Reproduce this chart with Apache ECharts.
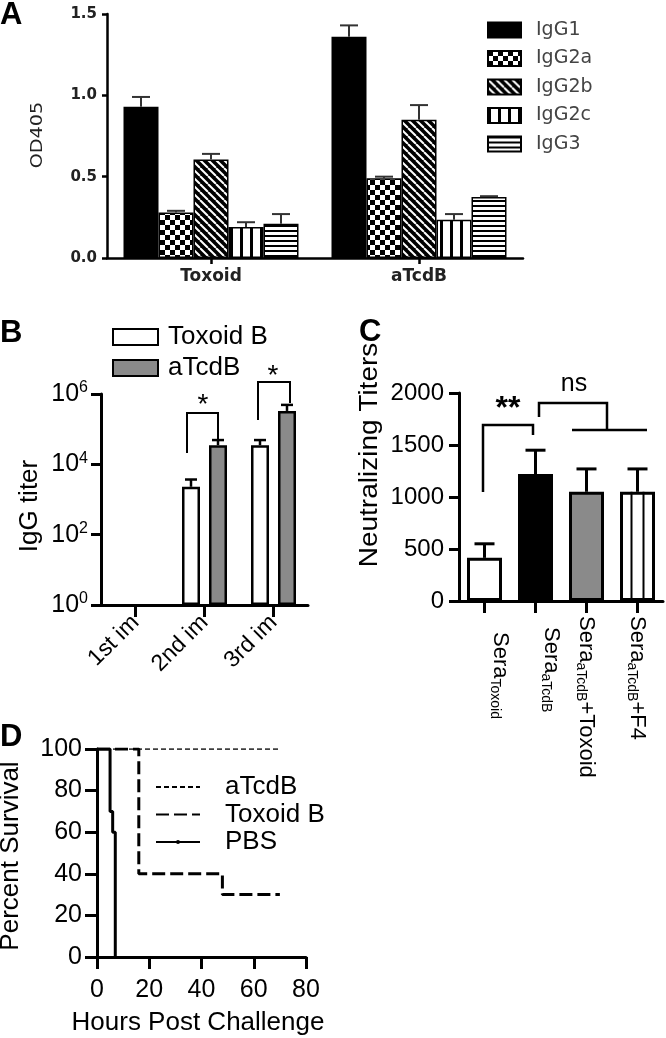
<!DOCTYPE html>
<html><head><meta charset="utf-8">
<script src="https://cdn.jsdelivr.net/npm/echarts@6/dist/echarts.min.js"></script>
<style>html,body{margin:0;padding:0;background:#fff}#c{width:666px;height:1038px}</style>
</head><body><div id="c"></div>
<script>
// ---------- Panel A : IgG subclass ELISA ----------
const aCategories = ['Toxoid', 'aTcdB'];
const aSubclasses = ['IgG1', 'IgG2a', 'IgG2b', 'IgG2c', 'IgG3'];
const aIgG1  = [0.93, 1.36];
const aIgG2a = [0.28, 0.49];
const aIgG2b = [0.605, 0.85];
const aIgG2c = [0.19, 0.235];
const aIgG3  = [0.21, 0.375];
const aIgG1Err  = [0.06, 0.07];
const aIgG2aErr = [0.01, 0.01];
const aIgG2bErr = [0.035, 0.09];
const aIgG2cErr = [0.03, 0.035];
const aIgG3Err  = [0.06, 0.005];

// ---------- Panel B : IgG titer (log) ----------
const bCategories = ['1st im', '2nd im', '3rd im'];
const bToxoidB    = [null, 2300, 35000];
const bToxoidBErr = [null, 1400, 14000];
const bATcdB      = [null, 35000, 330000];
const bATcdBErr   = [null, 14000, 160000];

// ---------- Panel C : neutralizing titers ----------
const cSub    = ['Toxoid', 'aTcdB', 'aTcdB', 'aTcdB'];
const cSuffix = ['', '', '+Toxoid', '+F4'];
const cValues = [415, 1220, 1050, 1050];
const cErr    = [135, 230, 220, 220];

// ---------- Panel D : survival ----------
const dATcdBHours  = [0, 70];
const dATcdBSurv   = [100, 100];
const dToxoidHours = [0, 16, 48, 70];
const dToxoidSurv  = [100, 40, 30, 30];
const dPBSHours    = [0, 5, 6, 7];
const dPBSSurv     = [100, 70, 60, 0];

// ---------- patterns ----------
function tile(w, h, draw) {
  const c = document.createElement('canvas'); c.width = w; c.height = h;
  const g = c.getContext('2d'); draw(g, w, h); return c;
}
const pChecker = tile(10, 10, (g) => { g.fillStyle = '#fff'; g.fillRect(0,0,10,10); g.fillStyle = '#000'; g.fillRect(0,0,5,5); g.fillRect(5,5,5,5); });
const pDiag = tile(8, 8, (g) => { g.fillStyle = '#000'; g.fillRect(0,0,8,8); g.strokeStyle = '#fff'; g.lineWidth = 2;
  [-8, 0, 8].forEach(o => { g.beginPath(); g.moveTo(o, 0); g.lineTo(o + 8, 8); g.stroke(); }); });
const pVert = tile(10, 4, (g) => { g.fillStyle = '#fff'; g.fillRect(0,0,10,4); g.fillStyle = '#000'; g.fillRect(0,0,3,4); });
const pHoriz = tile(4, 5, (g) => { g.fillStyle = '#fff'; g.fillRect(0,0,4,5); g.fillStyle = '#000'; g.fillRect(0,0,4,2); });
const aFills = ['#000', {image: pChecker, repeat: 'repeat'}, {image: pDiag, repeat: 'repeat'}, {image: pVert, repeat: 'repeat'}, {image: pHoriz, repeat: 'repeat'}];

const FONT = 'Liberation Sans, Arial, sans-serif';
const chart = echarts.init(document.getElementById('c'), null, {renderer: 'canvas'});

function errRender(offsets, capW, lw, color) {
  return function (params, api) {
    const cat = api.value(0), v = api.value(1), e = api.value(2), s = api.value(3);
    const p0 = api.coord([cat, v]); const p1 = api.coord([cat, v + e]);
    const cx = p0[0] + offsets[s];
    const st = {stroke: color, lineWidth: lw};
    return {type: 'group', children: [
      {type: 'line', shape: {x1: cx, y1: p0[1], x2: cx, y2: p1[1]}, style: st},
      {type: 'line', shape: {x1: cx - capW / 2, y1: p1[1], x2: cx + capW / 2, y2: p1[1]}, style: st}
    ]};
  };
}

const aVals = [aIgG1, aIgG2a, aIgG2b, aIgG2c, aIgG3];
const aErrs = [aIgG1Err, aIgG2aErr, aIgG2bErr, aIgG2cErr, aIgG3Err];
const aErrData = [];
aVals.forEach((arr, s) => arr.forEach((v, i) => aErrData.push([i, v, aErrs[s][i], s])));
const bErrData = [];
[[bToxoidB, bToxoidBErr], [bATcdB, bATcdBErr]].forEach((pair, s) => pair[0].forEach((v, i) => { if (v != null) bErrData.push([i, v, pair[1][i], s]); }));
const cErrData = cValues.map((v, i) => [i, v, cErr[i], 0]);
const cFill = ['#fff', '#000', '#8a8a8a', '#fff'];

const axLine = (w) => ({show: true, lineStyle: {color: '#000', width: w}});
const axTick = (len, w, align) => ({show: true, alignWithLabel: !!align, length: len, lineStyle: {color: '#000', width: w}});
const txt = (size) => ({fontFamily: FONT, fontSize: size, color: '#000'});

const option = {
  animation: false,
  backgroundColor: '#fff',
  grid: [
    {left: 107, top: 14, width: 416, height: 244},
    {left: 101, top: 394, width: 207, height: 211},
    {left: 459, top: 393, width: 204, height: 208},
    {left: 97, top: 749, width: 209, height: 208}
  ],
  xAxis: [
    {type: 'category', gridIndex: 0, data: aCategories, axisLine: axLine(2.5), axisTick: axTick(6, 2.5, true),
     axisLabel: {fontFamily: 'DejaVu Sans', fontWeight: 'bold', fontSize: 17, color: '#222', margin: 10}},
    {type: 'category', gridIndex: 1, data: bCategories, axisLine: axLine(3), axisTick: axTick(12, 3, true),
     axisLabel: Object.assign(txt(23), {rotate: 45, margin: 14})},
    {type: 'category', gridIndex: 2,
     data: [{value: 'c0', textStyle: {padding: [0, 0, 32, 16]}}, {value: 'c1', textStyle: {padding: [0, 0, 32, 11]}}, 'c2', 'c3'],
     axisLine: axLine(3), axisTick: axTick(12, 3, true),
     axisLabel: {rotate: -90, margin: 15, interval: 0,
       formatter: (val, idx) => '{m|Sera}{s|' + cSub[idx] + '}' + (cSuffix[idx] ? '{m|' + cSuffix[idx] + '}' : ''),
       rich: {m: {fontFamily: FONT, fontSize: 22, color: '#000', lineHeight: 26},
              s: {fontFamily: FONT, fontSize: 14, color: '#000', lineHeight: 14, verticalAlign: 'bottom'}}}},
    {type: 'value', gridIndex: 3, min: 0, max: 80, interval: 20, axisLine: axLine(3), axisTick: axTick(12, 3),
     splitLine: {show: false}, axisLabel: Object.assign(txt(25), {margin: 21})}
  ],
  yAxis: [
    {type: 'value', gridIndex: 0, min: 0, max: 1.5, interval: 0.5, axisLine: axLine(2.5), axisTick: axTick(5, 2.5),
     splitLine: {show: false},
     axisLabel: {fontFamily: 'DejaVu Sans', fontWeight: 'bold', fontSize: 15, color: '#222', margin: 10, formatter: v => v.toFixed(1)}},
    {type: 'log', gridIndex: 1, logBase: 10, min: 1, max: 1e6, interval: 2, axisLine: axLine(3), axisTick: axTick(10, 3),
     splitLine: {show: false}, minorTick: {show: false},
     axisLabel: {margin: 13, formatter: v => '{b|10}{e|' + Math.round(Math.log10(v)) + '}',
       rich: {b: {fontFamily: FONT, fontSize: 25, color: '#000', lineHeight: 28},
              e: {fontFamily: FONT, fontSize: 16, color: '#000', lineHeight: 16, verticalAlign: 'top'}}}},
    {type: 'value', gridIndex: 2, min: 0, max: 2000, interval: 500, axisLine: axLine(3), axisTick: axTick(10, 3),
     splitLine: {show: false}, axisLabel: Object.assign(txt(24), {margin: 15, formatter: v => String(v)})},
    {type: 'value', gridIndex: 3, min: 0, max: 100, interval: 20, axisLine: axLine(3), axisTick: axTick(12, 3),
     splitLine: {show: false}, axisLabel: Object.assign(txt(25), {margin: 15})}
  ],
  legend: [
    {data: aSubclasses, orient: 'vertical', left: 487, top: 20, padding: 0, itemWidth: 33, itemHeight: 15, itemGap: 8.5,
     icon: 'rect', selectedMode: false,
     textStyle: {fontFamily: 'DejaVu Sans', fontSize: 19, color: '#444', lineHeight: 20, padding: [0, 0, 0, 10]}},
    {data: ['B-Toxoid B', 'B-aTcdB'], orient: 'vertical', left: 112, top: 324, padding: 0, itemWidth: 45, itemHeight: 16, itemGap: 5,
     icon: 'rect', selectedMode: false, formatter: n => n.slice(2),
     textStyle: {fontFamily: FONT, fontSize: 26, color: '#000', lineHeight: 26, padding: [0, 0, 0, 5]}},
    {data: [{name: 'D-aTcdB', itemStyle: {opacity: 0}}, {name: 'D-Toxoid B', itemStyle: {opacity: 0}}, 'D-PBS'],
     orient: 'vertical', left: 155, top: 774, padding: 0, itemWidth: 44, itemHeight: 5, itemGap: 1.5,
     selectedMode: false, formatter: n => n.slice(2),
     textStyle: {fontFamily: FONT, fontSize: 26, color: '#000', lineHeight: 26, padding: [0, 0, 0, 20]}}
  ],
  series: [
    ...aSubclasses.map((n, s) => ({
      type: 'bar', name: n, xAxisIndex: 0, yAxisIndex: 0, data: aVals[s], barWidth: 35, barGap: '0%',
      itemStyle: {color: aFills[s], borderColor: '#000', borderWidth: 1.5}, z: 2
    })),
    {type: 'custom', xAxisIndex: 0, yAxisIndex: 0, data: aErrData, encode: {x: 0, y: 1}, z: 3,
     renderItem: errRender([-70, -35, 0, 35, 70], 18, 2, '#333')},
    {type: 'bar', name: 'B-Toxoid B', xAxisIndex: 1, yAxisIndex: 1, data: bToxoidB, barWidth: 18, barGap: '50%',
     itemStyle: {color: '#fff', borderColor: '#000', borderWidth: 2.5}, z: 2},
    {type: 'bar', name: 'B-aTcdB', xAxisIndex: 1, yAxisIndex: 1, data: bATcdB, barWidth: 18, barGap: '50%',
     itemStyle: {color: '#8a8a8a', borderColor: '#000', borderWidth: 2.5}, z: 2},
    {type: 'custom', xAxisIndex: 1, yAxisIndex: 1, data: bErrData, encode: {x: 0, y: 1}, z: 3,
     renderItem: errRender([-13.5, 13.5], 12, 2.5, '#000')},
    {type: 'bar', name: 'C', xAxisIndex: 2, yAxisIndex: 2, barWidth: 35,
     data: cValues.map((v, i) => ({value: v, itemStyle: {color: cFill[i]}})),
     itemStyle: {borderColor: '#000', borderWidth: 3}, z: 2},
    {type: 'custom', xAxisIndex: 2, yAxisIndex: 2, data: cErrData, encode: {x: 0, y: 1}, z: 3,
     renderItem: errRender([0], 20, 3, '#000')},
    {type: 'custom', xAxisIndex: 2, yAxisIndex: 2, data: [[3, cValues[3]]], encode: {x: 0, y: 1}, z: 3,
     renderItem: (params, api) => {
       const top = api.coord([api.value(0), api.value(1)]); const base = api.coord([api.value(0), 0]);
       const st = {stroke: '#000', lineWidth: 2};
       return {type: 'group', children: [-6, 6].map(o => ({type: 'line', shape: {x1: top[0] + o, y1: top[1], x2: top[0] + o, y2: base[1]}, style: st}))};
     }},
    {type: 'line', name: 'D-aTcdB', xAxisIndex: 3, yAxisIndex: 3, step: 'end', symbol: 'none',
     data: dATcdBHours.map((h, i) => [h, dATcdBSurv[i]]), lineStyle: {color: '#000', width: 1.5, type: [5, 3]}, itemStyle: {color: '#000'}, z: 4},
    {type: 'line', name: 'D-Toxoid B', xAxisIndex: 3, yAxisIndex: 3, step: 'end', symbol: 'none',
     data: dToxoidHours.map((h, i) => [h, dToxoidSurv[i]]), lineStyle: {color: '#000', width: 3, type: [13, 5]}, itemStyle: {color: '#000'}, z: 3},
    {type: 'line', name: 'D-PBS', xAxisIndex: 3, yAxisIndex: 3, step: 'end', symbol: 'circle', symbolSize: 5, showSymbol: false,
     data: dPBSHours.map((h, i) => [h, dPBSSurv[i]]), lineStyle: {color: '#000', width: 3}, itemStyle: {color: '#000'}, z: 3}
  ],
  graphic: [
    // panel letters
    {type: 'text', left: 0, top: 0, style: {text: 'A', font: 'bold 31px ' + FONT, fill: '#000'}},
    {type: 'text', x: 0, y: 333, style: {text: 'B', font: 'bold 31px ' + FONT, fill: '#000', textVerticalAlign: 'middle'}},
    {type: 'text', x: 359, y: 332, style: {text: 'C', font: 'bold 31px ' + FONT, fill: '#000', textVerticalAlign: 'middle'}},
    {type: 'text', x: 0, y: 737, style: {text: 'D', font: 'bold 31px ' + FONT, fill: '#000', textVerticalAlign: 'middle'}},
    // axis titles
    {type: 'text', x: 38, y: 135, rotation: Math.PI / 2, scaleX: 1.2, style: {text: 'OD405', font: '16px DejaVu Sans', fill: '#222', textAlign: 'center', textVerticalAlign: 'middle'}},
    {type: 'text', x: 30, y: 506, rotation: Math.PI / 2, style: {text: 'IgG titer', font: '26px ' + FONT, fill: '#000', textAlign: 'center', textVerticalAlign: 'middle'}},
    {type: 'text', x: 370, y: 455, rotation: Math.PI / 2, scaleX: 1.12, style: {text: 'Neutralizing Titers', font: '25px ' + FONT, fill: '#000', textAlign: 'center', textVerticalAlign: 'middle'}},
    {type: 'text', x: 11, y: 856, rotation: Math.PI / 2, style: {text: 'Percent Survival', font: '26px ' + FONT, fill: '#000', textAlign: 'center', textVerticalAlign: 'middle'}},
    {type: 'text', x: 198, y: 1023, style: {text: 'Hours Post Challenge', font: '26px ' + FONT, fill: '#000', textAlign: 'center', textVerticalAlign: 'middle'}},
    // significance brackets B
    {type: 'polyline', shape: {points: [[187, 453], [187, 413], [218, 413], [218, 443]]}, style: {stroke: '#000', lineWidth: 2, fill: null}},
    {type: 'polyline', shape: {points: [[258, 420], [258, 382], [290, 382], [290, 403]]}, style: {stroke: '#000', lineWidth: 2, fill: null}},
    {type: 'text', x: 203, y: 405, style: {text: '*', font: '28px ' + FONT, fill: '#000', textAlign: 'center', textVerticalAlign: 'middle'}},
    {type: 'text', x: 273, y: 376, style: {text: '*', font: '28px ' + FONT, fill: '#000', textAlign: 'center', textVerticalAlign: 'middle'}},
    // significance brackets C
    {type: 'polyline', shape: {points: [[483, 492], [483, 425], [533, 425], [533, 435]]}, style: {stroke: '#000', lineWidth: 2.5, fill: null}},
    {type: 'text', x: 508, y: 409, style: {text: '**', font: 'bold 32px ' + FONT, fill: '#000', textAlign: 'center', textVerticalAlign: 'middle'}},
    {type: 'polyline', shape: {points: [[539, 417], [539, 403], [607, 403], [607, 430]]}, style: {stroke: '#000', lineWidth: 2.5, fill: null}},
    {type: 'line', shape: {x1: 572, y1: 430, x2: 647, y2: 430}, style: {stroke: '#000', lineWidth: 2.5}},
    {type: 'text', x: 574, y: 384, style: {text: 'ns', font: '25px ' + FONT, fill: '#000', textAlign: 'center', textVerticalAlign: 'middle'}}
  ]
};
chart.setOption(option);
</script></body></html>
